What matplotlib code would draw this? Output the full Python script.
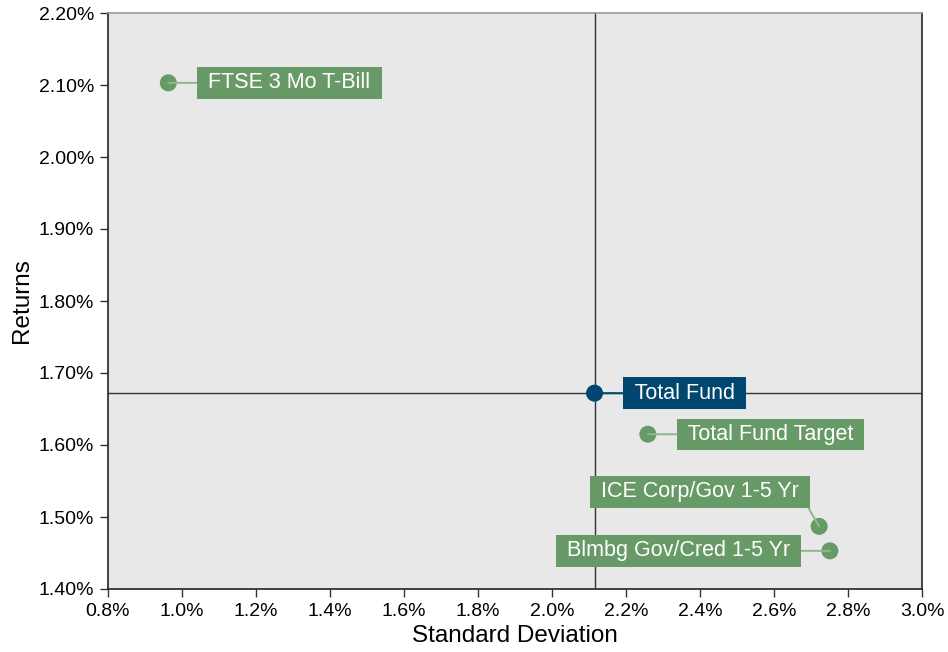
import matplotlib
matplotlib.use("Agg")
import matplotlib.pyplot as plt
from matplotlib.ticker import FuncFormatter, MultipleLocator

plt.rcParams['font.family'] = ['Liberation Sans', 'DejaVu Sans']

# Risk / return data (percent)
names = ["FTSE 3 Mo T-Bill", "Total Fund", "Total Fund Target",
         "ICE Corp/Gov 1-5 Yr", "Blmbg Gov/Cred 1-5 Yr"]
std_dev = [0.963, 2.115, 2.259, 2.722, 2.751]
returns = [2.103, 1.672, 1.615, 1.487, 1.453]

GREEN = "#679a67"
NAVY = "#00466f"
colors = [GREEN, NAVY, GREEN, GREEN, GREEN]

# label placement: (dx, dy) offset in pixels, ha, va, connector anchor on box
placements = [
    ((34, 0), "left", "center", (0, 0.5)),
    ((34, 0), "left", "center", (0, 0.5)),
    ((34, 0), "left", "center", (0, 0.5)),
    ((-14, 24), "right", "bottom", (1, 0)),
    ((-34, 0), "right", "center", (1, 0.5)),
]

fig = plt.figure(figsize=(9.48, 6.52), dpi=100)
ax = fig.add_axes([108/948, 1 - 589/652, (922-108)/948, (589-13)/652])
ax.set_facecolor("#e8e8e8")

ax.set_xlim(0.8, 3.0)
ax.set_ylim(1.40, 2.20)
ax.xaxis.set_major_locator(MultipleLocator(0.2))
ax.yaxis.set_major_locator(MultipleLocator(0.1))
ax.xaxis.set_major_formatter(FuncFormatter(lambda v, p: f"{v:.1f}%"))
ax.yaxis.set_major_formatter(FuncFormatter(lambda v, p: f"{v:.2f}%"))
ax.tick_params(axis="both", direction="out", length=6, width=1, color="#333333",
               labelsize=14, pad=4)

for side in ["left", "bottom", "right"]:
    ax.spines[side].set_color("#222222")
    ax.spines[side].set_linewidth(1.2)
ax.spines["top"].set_color("#999999")
ax.spines["top"].set_linewidth(1.2)

# crosshair through the total fund
ax.axvline(std_dev[1], color="#333333", lw=1.0, zorder=1)
ax.axhline(returns[1], color="#333333", lw=1.0, zorder=1)

for name, x, y, c, (off, ha, va, rel) in zip(names, std_dev, returns, colors, placements):
    ax.scatter([x], [y], s=150, color=c, zorder=4, edgecolor="none")
    line_c = "#8fb88f" if c == GREEN else NAVY
    ax.annotate(" " + name + " ", xy=(x, y), xytext=off, textcoords="offset pixels",
                ha=ha, va=va, fontsize=15.5, color="white", zorder=5,
                bbox=dict(boxstyle="square,pad=0.24", fc=c, ec="none"),
                arrowprops=dict(arrowstyle="-", color=line_c, lw=1.4,
                                shrinkA=0, shrinkB=0, relpos=rel),
                annotation_clip=False)

ax.set_xlabel("Standard Deviation", fontsize=17.5, labelpad=4)
ax.set_ylabel("Returns", fontsize=17.5, labelpad=4)

fig.savefig("out.png", dpi=100)
